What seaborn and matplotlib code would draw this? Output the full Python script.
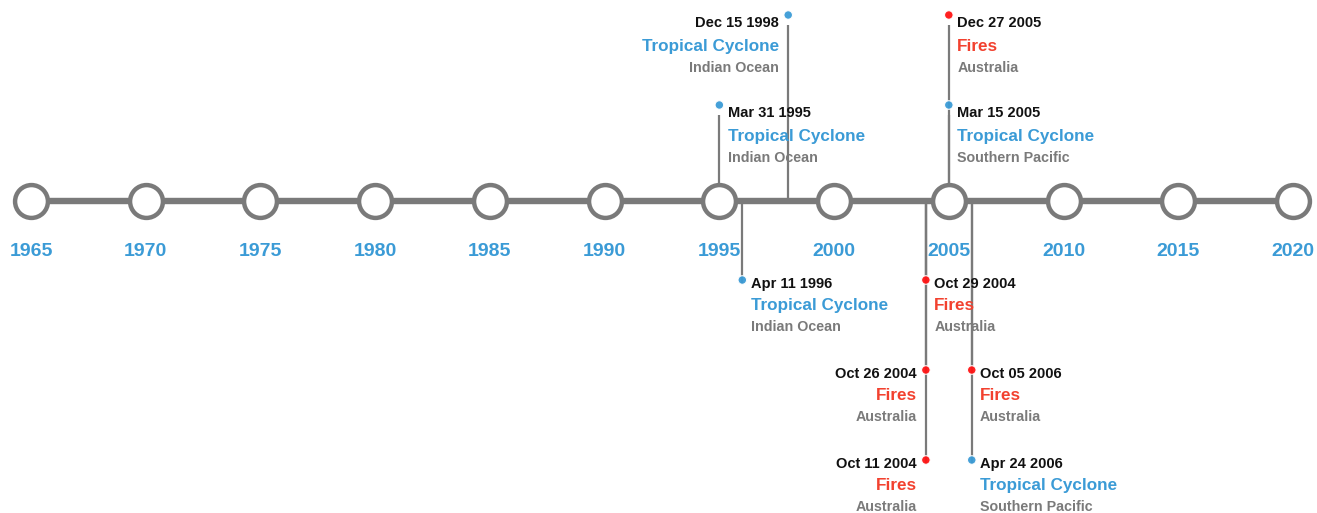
import seaborn as sns
import matplotlib.pyplot as plt
import pandas as pd

# timeline ticks
tick_years = [1965, 1970, 1975, 1980, 1985, 1990, 1995, 2000, 2005, 2010, 2015, 2020]

# events
event_dates = ["Dec 15 1998", "Mar 31 1995", "Dec 27 2005", "Mar 15 2005", "Apr 11 1996",
               "Oct 29 2004", "Oct 26 2004", "Oct 11 2004", "Oct 05 2006", "Apr 24 2006"]
event_pos = [1998, 1995, 2005, 2005, 1996, 2004, 2004, 2004, 2006, 2006]
event_types = ["Tropical Cyclone", "Tropical Cyclone", "Fires", "Tropical Cyclone", "Tropical Cyclone",
               "Fires", "Fires", "Fires", "Fires", "Tropical Cyclone"]
event_places = ["Indian Ocean", "Indian Ocean", "Australia", "Southern Pacific", "Indian Ocean",
                "Australia", "Australia", "Australia", "Australia", "Southern Pacific"]
event_levels = [2, 1, 2, 1, -1, -1, -2, -3, -2, -3]
label_side = ["left", "right", "right", "right", "right", "right", "left", "left", "right", "right"]

BLUE = "#3b9bd6"
RED_TEXT = "#f2412f"
RED_DOT = "#ff1414"
GRAY = "#7a7a7a"
type_text = {"Tropical Cyclone": BLUE, "Fires": RED_TEXT}
type_dot = {"Tropical Cyclone": BLUE, "Fires": RED_DOT}

sns.set_style("white")
plt.rcParams['font.family'] = ['Liberation Sans', 'DejaVu Sans']

AXIS_Y = 201


def level_y(lv):
    # pixel-like y position of an event level (y axis inverted)
    return 195 - 90 * lv if lv > 0 else 190 + 90 * (-lv)


fig = plt.figure(figsize=(13.17, 5.13), dpi=100)
ax = fig.add_axes([0, 0, 1, 1])
px_per_year = (1293 - 31) / 55
ax.set_xlim(1965 - 31 / px_per_year, 2020 + (1317 - 1293) / px_per_year)
ax.set_ylim(513, 0)
ax.axis('off')

events = pd.DataFrame({
    "pos": event_pos, "date": event_dates, "type": event_types,
    "place": event_places, "level": event_levels, "side": label_side,
})
events["y"] = events["level"].map(level_y)

# stems
for _, ev in events.iterrows():
    if ev["level"] > 0:
        ax.plot([ev["pos"], ev["pos"]], [ev["y"] + 10, AXIS_Y], color=GRAY, lw=1.6,
                zorder=1, solid_capstyle='butt')
    else:
        ax.plot([ev["pos"], ev["pos"]], [AXIS_Y, ev["y"] + 4], color=GRAY, lw=1.6,
                zorder=1, solid_capstyle='butt')

# main line
ticks = pd.DataFrame({"year": tick_years, "y": [AXIS_Y] * len(tick_years)})
sns.lineplot(data=ticks, x="year", y="y", color=GRAY, lw=4.6, ax=ax, zorder=2)
sns.scatterplot(data=ticks, x="year", y="y", s=560, color="white", edgecolor=GRAY,
                linewidth=3.2, ax=ax, zorder=3, legend=False)
for yr in tick_years:
    ax.text(yr, 251, str(yr), color=BLUE, fontsize=14, fontweight='bold',
            ha='center', va='center', zorder=4)

# event dots
sns.scatterplot(data=events, x="pos", y="y", hue="type", palette=type_dot, s=38,
                edgecolor="white", linewidth=0.8, alpha=0.95, ax=ax, zorder=5, legend=False)

# event labels
for _, ev in events.iterrows():
    dx = 6 if ev["side"] == "right" else -6.5
    ha = 'left' if ev["side"] == "right" else 'right'
    offs = (-6.1, -22.6, -37.8) if ev["level"] > 0 else (-2.9, -18.7, -33.8)
    kw = dict(xy=(ev["pos"], ev["y"]), textcoords='offset points', ha=ha, va='center',
              fontweight='bold', zorder=6)
    ax.annotate(ev["date"], xytext=(dx, offs[0]), color="#111111", fontsize=10.5, **kw)
    ax.annotate(ev["type"], xytext=(dx, offs[1]), color=type_text[ev["type"]], fontsize=12.3, **kw)
    ax.annotate(ev["place"], xytext=(dx, offs[2]), color=GRAY, fontsize=10.3, **kw)

fig.savefig("out.png", dpi=100)
